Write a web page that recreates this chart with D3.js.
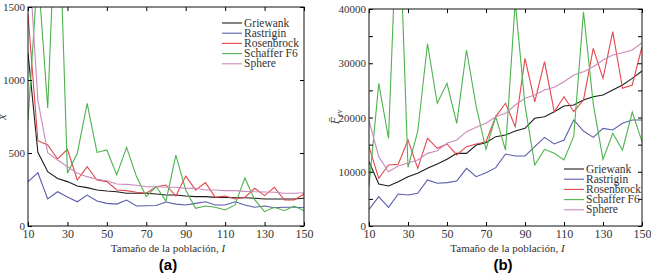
<!DOCTYPE html>
<html>
<head>
<meta charset="utf-8">
<script src="https://cdn.jsdelivr.net/npm/d3@7"></script>
<style>
  body { margin: 0; background: #fff; }
  svg { display: block; }
  svg text { font-family: "Liberation Serif", "DejaVu Serif", serif; fill: #333; }
  svg text.caption { font-family: "Liberation Sans", Arial, sans-serif; fill: #000; }
</style>
</head>
<body>
<div id="chart"></div>
<script>
"use strict";

/* population sizes (x axis) */
const popSizes = [10, 15, 20, 25, 30, 35, 40, 45, 50, 55, 60, 65, 70, 75, 80, 85, 90, 95, 100, 105, 110, 115, 120, 125, 130, 135, 140, 145, 150];

const seriesNames = ["Griewank", "Rastrigin", "Rosenbrock", "Schaffer F6", "Sphere"];

/* (a) mean iterations x̄ */
const griewankX   = [1185, 505, 372, 326, 304, 274, 263, 247, 240, 235, 224, 224, 224, 219, 212, 212, 205, 201, 201, 196, 196, 194, 194, 190, 185, 185, 185, 185, 190];
const rastriginX  = [303, 365, 185, 235, 198, 166, 212, 171, 155, 150, 178, 137, 139, 140, 164, 150, 144, 155, 166, 144, 144, 166, 144, 128, 137, 125, 128, 128, 125];
const rosenbrockX = [1450, 584, 555, 459, 525, 315, 406, 315, 304, 247, 242, 231, 224, 269, 281, 205, 342, 247, 297, 196, 205, 185, 196, 258, 208, 265, 178, 178, 219];
const schafferX   = [725, 1753, 808, 2500, 361, 498, 840, 504, 521, 349, 539, 340, 201, 269, 170, 486, 247, 121, 137, 128, 110, 144, 329, 180, 98, 128, 105, 137, 104];
const sphereX     = [1950, 860, 502, 452, 406, 361, 338, 320, 310, 288, 285, 279, 269, 269, 265, 265, 258, 258, 247, 247, 242, 242, 237, 235, 233, 231, 224, 224, 228];

/* (b) mean function evaluations F_ev */
const griewankF   = [11860, 7740, 7370, 8170, 9090, 9710, 10630, 11430, 12290, 13390, 13390, 14930, 15360, 16470, 16770, 17500, 18000, 19850, 20150, 21070, 22120, 22300, 23230, 23840, 24150, 25070, 25990, 27220, 28570];
const rastriginF  = [3080, 5410, 3440, 5900, 5710, 6020, 8480, 7870, 7990, 8290, 10630, 9090, 9830, 10750, 13270, 12900, 12900, 14620, 16340, 15120, 15850, 19540, 17500, 16340, 18000, 17700, 18930, 19540, 19540];
const rosenbrockF = [14620, 8790, 11240, 11370, 15850, 10630, 16160, 14320, 15120, 13090, 14620, 15120, 15540, 20175, 22620, 18300, 30900, 22900, 30290, 21070, 23840, 21070, 23230, 32750, 27220, 35820, 25380, 25990, 33050];
const schafferF   = [7250, 26300, 16160, 62500, 10830, 17430, 33600, 22620, 26300, 18930, 32440, 22000, 14130, 20175, 14000, 41310, 22230, 11240, 14130, 13390, 12170, 16560, 39500, 22500, 12290, 17080, 14010, 21000, 15540];
const sphereF     = [19400, 12780, 10000, 11060, 11600, 12170, 13390, 13880, 15240, 15850, 17390, 18190, 18930, 20150, 20770, 22300, 23530, 24150, 25070, 25560, 26600, 27830, 28440, 29370, 30600, 31520, 31950, 32440, 33790];

/* tick values */
const xTicks  = [10, 30, 50, 70, 90, 110, 130, 150];
const yTicksA = [0, 500, 1000, 1500];
const yTicksB = [0, 5000, 10000, 15000, 20000, 25000, 30000, 35000, 40000];
const yLabelsB = [0, 10000, 20000, 30000, 40000];

const colors = ["#1c1c1c", "#5a5ca8", "#e2474e", "#4db34d", "#c98bbb"];

const svg = d3.select("#chart").append("svg")
  .attr("width", 651)
  .attr("height", 273);

function drawPanel(cfg) {

  const x = d3.scaleLinear().domain([10, 150]).range([cfg.left, cfg.right]);
  const y = d3.scaleLinear().domain(cfg.yDomain).range([cfg.bottom, cfg.top]);

  const g = svg.append("g");

  /* clip lines to the plot area */
  g.append("clipPath").attr("id", cfg.id + "-clip")
    .append("rect")
    .attr("x", cfg.left).attr("y", cfg.top)
    .attr("width", cfg.right - cfg.left).attr("height", cfg.bottom - cfg.top);

  const line = d3.line()
    .x((d, i) => x(popSizes[i]))
    .y(d => y(d));

  g.append("g").attr("clip-path", "url(#" + cfg.id + "-clip)")
    .selectAll("path")
    .data(cfg.series)
    .enter().append("path")
    .attr("d", d => line(d))
    .attr("fill", "none")
    .attr("stroke", (d, i) => colors[i])
    .attr("stroke-width", 1.1);

  /* bottom axis with labels, inward ticks */
  g.append("g")
    .attr("transform", "translate(0," + cfg.bottom + ")")
    .call(d3.axisBottom(x).tickValues(xTicks).tickSize(-4).tickPadding(3))
    .call(a => a.select(".domain").remove())
    .call(a => a.selectAll("text").style("font-size", "12px"));

  /* top axis, ticks only */
  g.append("g")
    .attr("transform", "translate(0," + cfg.top + ")")
    .call(d3.axisTop(x).tickValues(xTicks).tickSize(-4).tickFormat(""))
    .call(a => a.select(".domain").remove());

  /* left axis */
  g.append("g")
    .attr("transform", "translate(" + cfg.left + ",0)")
    .call(d3.axisLeft(y).tickValues(cfg.yTicks).tickSize(-4).tickPadding(3)
      .tickFormat(d => cfg.yLabels.indexOf(d) >= 0 ? d : ""))
    .call(a => a.select(".domain").remove())
    .call(a => a.selectAll("text").style("font-size", "11px"));

  /* right axis, ticks only */
  g.append("g")
    .attr("transform", "translate(" + cfg.right + ",0)")
    .call(d3.axisRight(y).tickValues(cfg.yTicks).tickSize(-4).tickFormat(""))
    .call(a => a.select(".domain").remove());

  /* plot frame */
  g.append("rect")
    .attr("x", cfg.left).attr("y", cfg.top)
    .attr("width", cfg.right - cfg.left).attr("height", cfg.bottom - cfg.top)
    .attr("fill", "none").attr("stroke", "#111").attr("stroke-width", 1);

  /* x axis title */
  const xt = g.append("text")
    .attr("x", (cfg.left + cfg.right) / 2 + 2)
    .attr("y", 252)
    .attr("text-anchor", "middle")
    .style("font-size", "11px");
  xt.append("tspan").text("Tamaño de la población, ");
  xt.append("tspan").style("font-style", "italic").text("I");

  /* legend */
  const leg = g.append("g").attr("transform", "translate(" + cfg.legX + "," + cfg.legY + ")");
  seriesNames.forEach((name, i) => {
    leg.append("line")
      .attr("x1", 0).attr("x2", 20)
      .attr("y1", i * 10.2).attr("y2", i * 10.2)
      .attr("stroke", colors[i]).attr("stroke-width", 1.1);
    leg.append("text")
      .attr("x", 22).attr("y", i * 10.2 + 3.6)
      .style("font-size", "11.5px")
      .text(name);
  });

  /* panel caption */
  g.append("text")
    .attr("class", "caption")
    .attr("x", cfg.captionX).attr("y", 270)
    .attr("text-anchor", "middle")
    .style("font-size", "15px").style("font-weight", "bold")
    .text(cfg.caption);

  return g;
}

/* panel (a) */
const ga = drawPanel({
  id: "a", left: 28, right: 304, top: 7, bottom: 226,
  yDomain: [0, 1500], yTicks: yTicksA, yLabels: yTicksA,
  series: [griewankX, rastriginX, rosenbrockX, schafferX, sphereX],
  legX: 222, legY: 23, caption: "(a)", captionX: 168
});

ga.append("text")
  .attr("transform", "translate(6,117) rotate(-90)")
  .attr("text-anchor", "middle")
  .style("font-size", "12px").style("font-style", "italic")
  .text("x\u0304");

/* panel (b) */
const gb = drawPanel({
  id: "b", left: 369, right: 642, top: 9, bottom: 226,
  yDomain: [0, 40000], yTicks: yTicksB, yLabels: yLabelsB,
  series: [griewankF, rastriginF, rosenbrockF, schafferF, sphereF],
  legX: 564, legY: 169, caption: "(b)", captionX: 503
});

const fl = gb.append("text")
  .attr("transform", "translate(339,117) rotate(-90)")
  .attr("text-anchor", "middle")
  .style("font-size", "12px").style("font-style", "italic");
fl.append("tspan").text("F\u0304");
fl.append("tspan").style("font-size", "8px").attr("dy", 3).text("ev");
</script>
</body>
</html>
